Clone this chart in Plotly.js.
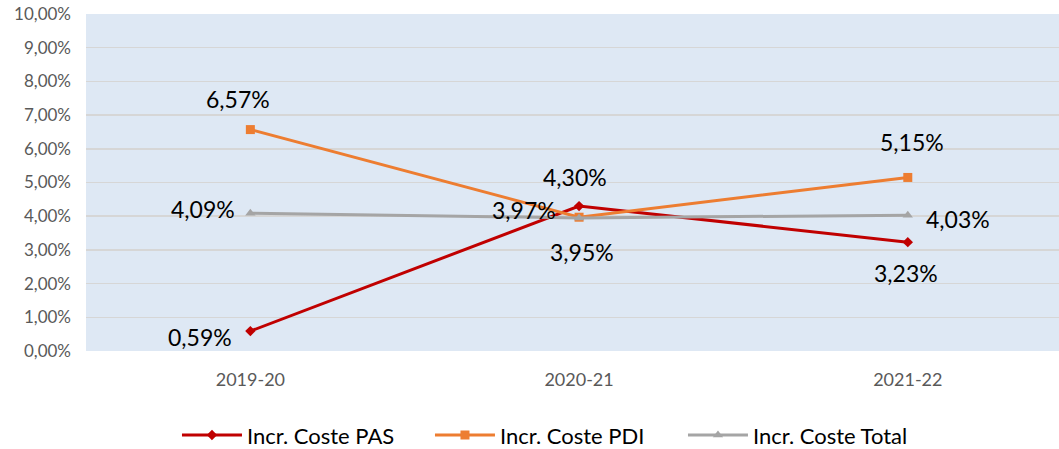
<!DOCTYPE html>
<html><head><meta charset="utf-8">
<script src="https://cdn.plot.ly/plotly-3.0.1.min.js"></script>
<style>html,body{margin:0;padding:0;background:#fff}</style>
</head><body>
<div id="chart" style="width:1059px;height:449px"></div>
<script>
const categories = ["2019-20", "2020-21", "2021-22"];
const pas = [0.0059, 0.0430, 0.0323];
const pdi = [0.0657, 0.0397, 0.0515];
const total = [0.0409, 0.0395, 0.0403];
const seriesNames = ["Incr. Coste PAS", "Incr. Coste PDI", "Incr. Coste Total"];
const fmt = v => (v*100).toFixed(2).replace(".", ",") + "%";
const xi = [0,1,2];
const tickVals = [0,0.01,0.02,0.03,0.04,0.05,0.06,0.07,0.08,0.09,0.10];
const tickText = tickVals.map(v => (v*100).toFixed(2).replace(".", ",") + "%");
const lf = "Lato, 'Open Sans', sans-serif";
function tr(y, name, color, symbol, size){
  return {x: xi, y: y, name: name, type: "scatter", mode: "lines+markers",
    line: {color: color, width: 3}, marker: {symbol: symbol, size: size, color: color}};
}
const data = [
  tr(pas, seriesNames[0], "#C00000", "diamond", 8),
  tr(pdi, seriesNames[1], "#ED7D31", "square", 9),
  tr(total, seriesNames[2], "#A5A5A5", "triangle-up", 9)
];
// label offsets (px) per series, per point
const shifts = [
  [[-50,-6],[-4,29],[-2,-31]],
  [[-12,31],[-55,7],[4,35]],
  [[-47,4],[3,-34],[50,-4]]
];
const annotations = [];
[pas, pdi, total].forEach((s, si) => {
  s.forEach((v, i) => {
    annotations.push({x: xi[i], y: v, xref: "x", yref: "y", text: fmt(v), showarrow: false,
      xshift: shifts[si][i][0], yshift: shifts[si][i][1],
      font: {family: lf, size: 23, color: "#000"}});
  });
});
const layout = {
  width: 1059, height: 449,
  margin: {l: 86, r: 0, t: 14, b: 98, autoexpand: false},
  paper_bgcolor: "#fff", plot_bgcolor: "#DEE8F4",
  font: {family: lf, color: "#595959"},
  xaxis: {range: [-0.5, 2.46], tickvals: xi, ticktext: categories, showgrid: false, zeroline: false,
          tickfont: {size: 18, color: "#595959"}, ticks: "", showline: false, ticklabelstandoff: 16},
  yaxis: {range: [0, 0.1], tickvals: tickVals, ticktext: tickText, gridcolor: "#D6D6D6", gridwidth: 1.5,
          zeroline: false, tickfont: {size: 17, color: "#595959"}, ticks: "", showline: false, ticklabelstandoff: 14},
  annotations: annotations,
  showlegend: true,
  legend: {orientation: "h", x: 0.0935, xanchor: "left", y: -0.25, yanchor: "middle",
           font: {family: lf, size: 22, color: "#000"}, itemwidth: 60, entrywidth: 178,
           traceorder: "normal"}
};
Plotly.newPlot("chart", data, layout, {displayModeBar: false, staticPlot: true});
</script>
</body></html>
